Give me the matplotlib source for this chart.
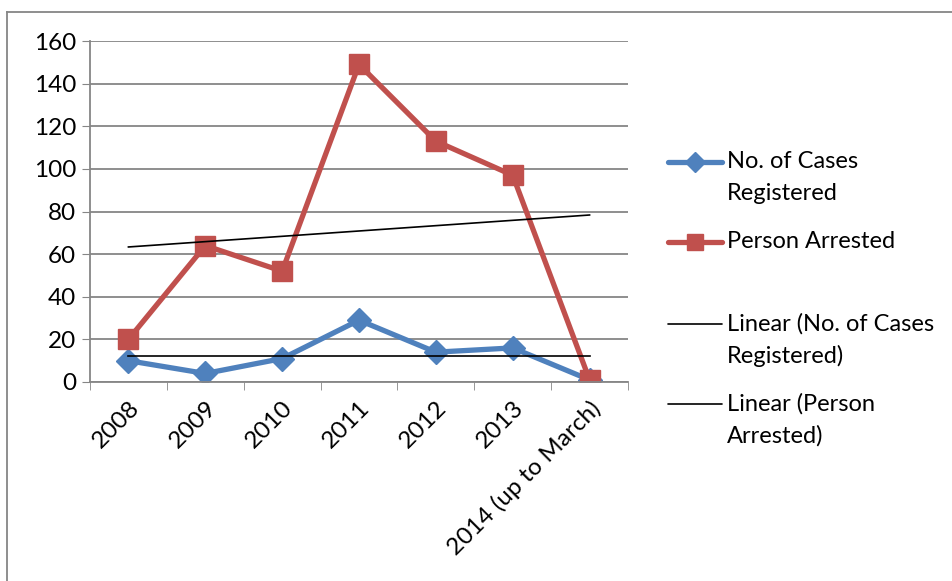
import matplotlib
matplotlib.use('Agg')
import matplotlib.pyplot as plt
import numpy as np

plt.rcParams['font.family'] = ['Lato', 'DejaVu Sans']

# data
years = ['2008', '2009', '2010', '2011', '2012', '2013', '2014 (up to March)']
cases = [10, 4, 11, 29, 14, 16, 1]
arrested = [20, 64, 52, 149, 113, 97, 1]

blue = '#4F81BD'
red = '#C0504D'
grid_col = '#868686'
W, H = 952, 581

fig = plt.figure(figsize=(W / 100, H / 100), dpi=100)
ax = fig.add_axes([90/W, 1 - 382/H, (628 - 90)/W, (382 - 41)/H])

x = np.arange(1, len(years) + 1)
ax.plot(x, cases, color=blue, lw=3.8, marker='D', ms=12)
ax.plot(x, arrested, color=red, lw=3.8, marker='s', ms=14)

# linear trendlines (least squares, like Excel)
fit_c = np.polyfit(x, cases, 1)
fit_a = np.polyfit(x, arrested, 1)
ax.plot(x[[0, -1]], np.polyval(fit_c, x[[0, -1]]), color='black', lw=1.2)
ax.plot(x[[0, -1]], np.polyval(fit_a, x[[0, -1]]), color='black', lw=1.2)

ax.set_xlim(0.5, len(years) + 0.5)
ax.set_ylim(0, 160)
ax.set_yticks(np.arange(0, 161, 20))
ax.set_xticks(x)
ax.set_xticklabels(years, rotation=45, ha='right', rotation_mode='anchor', fontsize=17.5)
ax.tick_params(axis='y', labelsize=17.5, length=6, color=grid_col, pad=4)
ax.tick_params(axis='x', length=0, pad=11)
ax.set_xticks(np.arange(0.5, len(years) + 1), minor=True)
ax.tick_params(axis='x', which='minor', length=6, color=grid_col)

ax.grid(axis='y', color=grid_col, lw=1.3)
ax.set_axisbelow(True)
for s in ['top', 'right']:
    ax.spines[s].set_visible(False)
for s in ['left', 'bottom']:
    ax.spines[s].set_color(grid_col)
    ax.spines[s].set_linewidth(1.3)

# legend, drawn by hand so the handle sits on the first text line (Excel style)
legend_items = [
    ('No. of Cases\nRegistered', blue, 'D', 3.8, 10, 162),
    ('Person Arrested', red, 's', 3.8, 12, 242),
    ('Linear (No. of Cases\nRegistered)', 'black', None, 1.2, 0, 324),
    ('Linear (Person\nArrested)', 'black', None, 1.2, 0, 404),
]
for label, col, mk, lw, ms, ypx in legend_items:
    yf = 1 - ypx / H
    fig.add_artist(plt.Line2D([668/W, 722/W], [yf, yf], color=col, lw=lw,
                              solid_capstyle='round'))
    if mk:
        fig.add_artist(plt.Line2D([695/W], [yf], color=col, marker=mk, ms=ms, lw=0))
    for i, line in enumerate(label.split('\n')):
        fig.text(727/W, 1 - (ypx + 32 * i) / H, line, fontsize=17,
                 ha='left', va='center')

# outer chart border (top and left visible)
fig.add_artist(plt.Line2D([7/W, 1], [1 - 11.5/H, 1 - 11.5/H], color=grid_col, lw=1.3))
fig.add_artist(plt.Line2D([7/W, 7/W], [0, 1 - 11.5/H], color=grid_col, lw=1.3))

fig.savefig('out.png', dpi=100)
plt.close()
